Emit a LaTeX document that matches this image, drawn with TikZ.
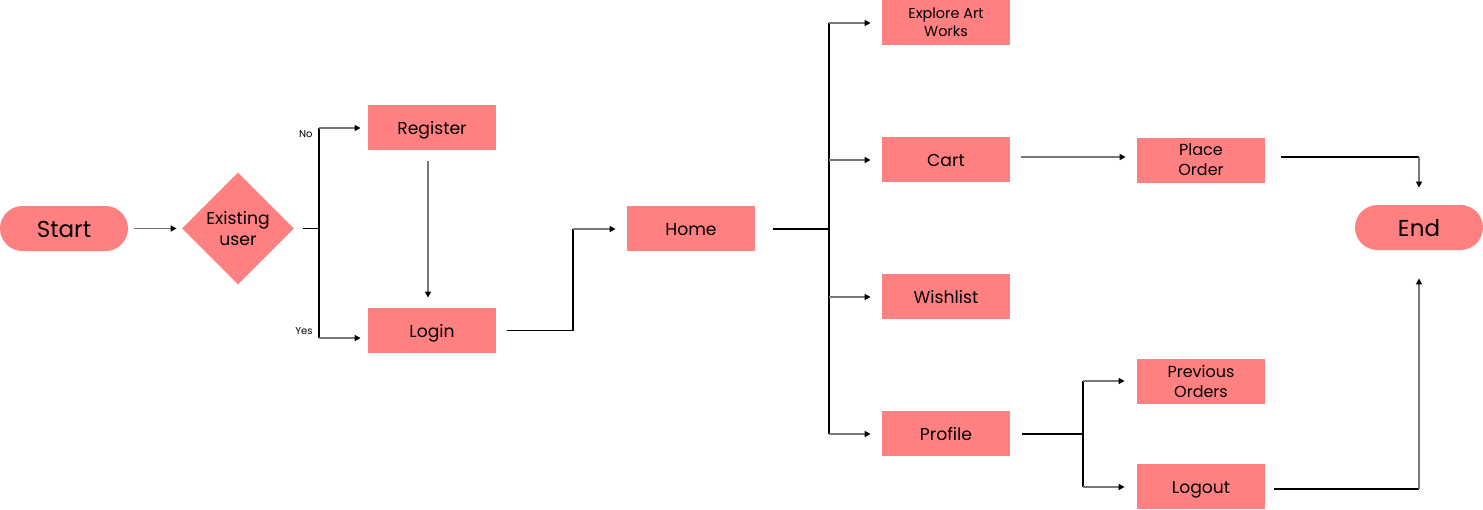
\documentclass[tikz,border=0pt]{standalone}
\usepackage{fontspec}
\setmainfont{Poppins}
\usetikzlibrary{arrows.meta,shapes.geometric,shapes.misc}
\definecolor{boxfill}{HTML}{FF8080}
\definecolor{arrgray}{HTML}{777777}
\tikzset{
  basebox/.style={fill=boxfill, minimum width=64pt, minimum height=22.5pt, inner sep=0pt, align=center},
  boxnode/.style={basebox, text height=7.4pt, text depth=0pt, font=\fontsize{8.6}{9}\selectfont},
  smallbox/.style={basebox, font=\fontsize{7.2}{8.8}\selectfont},
  twoline/.style={basebox, font=\fontsize{8}{10}\selectfont},
  termnode/.style={rounded rectangle, fill=boxfill, minimum width=64pt, minimum height=22.5pt, inner sep=0pt, text height=9.4pt, text depth=0pt, font=\fontsize{11.5}{12}\selectfont},
  decnode/.style={diamond, fill=boxfill, minimum width=56pt, minimum height=56pt, inner sep=0pt, align=center, font=\fontsize{8.6}{10.8}\selectfont},
  lbl/.style={font=\fontsize{5}{6}\selectfont, inner sep=0pt},
  ln/.style={draw=black, line width=0.55pt},
  arr/.style={draw=arrgray, line width=0.75pt, -{Triangle[length=3pt,width=3pt,color=black]}},
}
\begin{document}
\begin{tikzpicture}[x=0.5pt,y=-0.5pt]
\useasboundingbox (0,0) rectangle (1483,509);
% nodes
\node[termnode] (start) at (64,228.5) {Start};
\node[decnode] (dec) at (238,228.5) {Existing\\user};
\node[boxnode] (reg) at (432,127.5) {Register};
\node[boxnode] (login) at (432,330.5) {Login};
\node[boxnode] (home) at (691,228.5) {Home};
\node[smallbox] (explore) at (946,22.5) {Explore Art\\Works};
\node[boxnode] (cart) at (946,159.5) {Cart};
\node[boxnode] (wish) at (946,296.5) {Wishlist};
\node[boxnode] (profile) at (946,433.5) {Profile};
\node[twoline] (place) at (1201,160) {Place\\Order};
\node[twoline] (prev) at (1201,381) {Previous\\Orders};
\node[boxnode] (logout) at (1201,486.5) {Logout};
\node[termnode] (end) at (1419,227.5) {End};
% labels
\node[lbl, anchor=east] (nolbl) at (313,134) {No};
\node[lbl, anchor=east] (yeslbl) at (313,331) {Yes};
% junction coordinates
\coordinate (jd) at (319,228.5);
\coordinate (jn) at (319,128);
\coordinate (jy) at (319,338);
\coordinate (jl) at (573,229);
\coordinate (jh) at (829,229);
\coordinate (ht) at (829,23);
\coordinate (hc) at (829,160);
\coordinate (hw) at (829,297);
\coordinate (hp) at (829,434);
\coordinate (jp) at (1419,157);
\coordinate (jq) at (1083,434);
\coordinate (qt) at (1083,381);
\coordinate (qb) at (1083,487);
\coordinate (jo) at (1419,489);
% connectors
\draw[arr, shorten <=3pt, shorten >=2.5pt] (start.east) -- (dec.west |- start.east);
\draw[ln, shorten <=4.5pt] (dec.east |- jd) -- (jd);
\draw[ln] (jn) -- (jy);
\draw[arr, shorten >=3.5pt] (jn) -- (reg.west |- jn);
\draw[arr, shorten >=3.5pt] (jy) -- (login.west |- jy);
\draw[arr, shorten <=5.5pt, shorten >=5pt] ([xshift=-2pt]reg.south) -- ([xshift=-2pt]login.north);
\draw[ln, shorten <=5.5pt] (login.east) -| (jl);
\draw[arr, shorten >=5.5pt] (jl) -- (home.west |- jl);
\draw[ln, shorten <=9pt] (home.east |- jh) -- (jh);
\draw[ln] (ht) -- (hp);
\draw[arr, shorten >=5.5pt] (ht) -- (explore.west |- ht);
\draw[arr, shorten >=5.5pt] (hc) -- (cart.west |- hc);
\draw[arr, shorten >=5.5pt] (hw) -- (wish.west |- hw);
\draw[arr, shorten >=5.5pt] (hp) -- (profile.west |- hp);
\draw[arr, shorten <=5.5pt, shorten >=5.5pt] ([yshift=1.25pt]cart.east) -- ([yshift=1.25pt]cart.east -| place.west);
\draw[ln, shorten <=8pt] (place.east |- jp) -- (jp);
\draw[arr, shorten >=8.5pt] (jp) -- (end.north);
\draw[ln, shorten <=6pt] (profile.east |- jq) -- (jq);
\draw[ln] (qt) -- (qb);
\draw[arr, shorten >=6pt] (qt) -- (prev.west |- qt);
\draw[arr, shorten >=6pt] (qb) -- (logout.west |- qb);
\draw[ln, shorten <=4.5pt] (logout.east |- jo) -- (jo);
\draw[arr, shorten >=14pt] (jo) -- (end.south);
\end{tikzpicture}
\end{document}
